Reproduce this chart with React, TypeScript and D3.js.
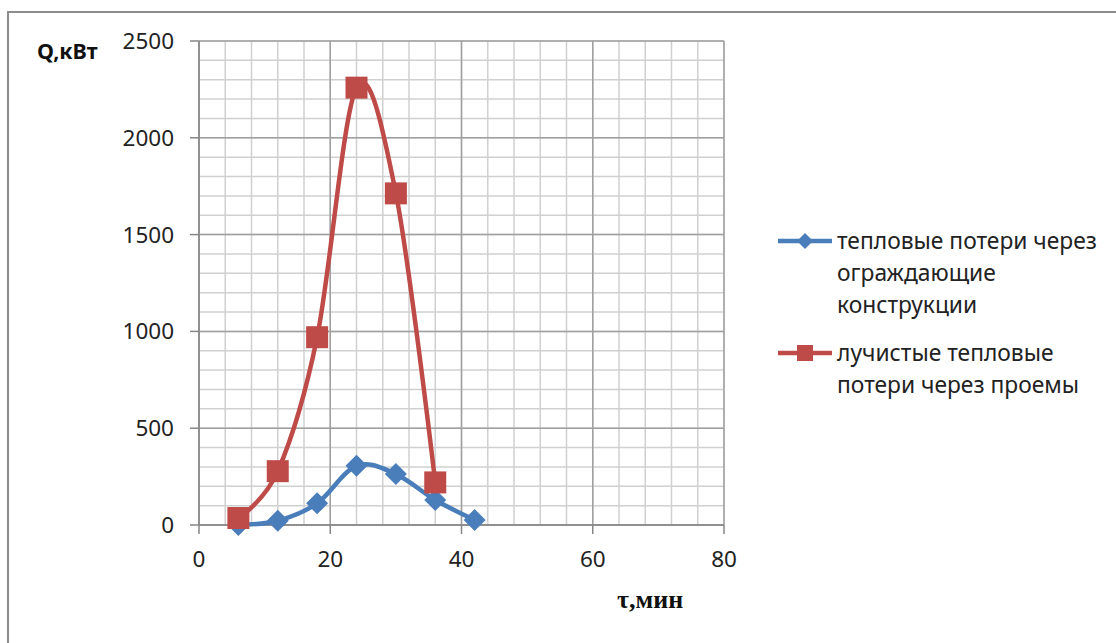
import React from "react";
import * as d3 from "d3";

const times = [6, 12, 18, 24, 30, 36, 42];
const envelopeLoss = [0, 22, 112, 306, 263, 129, 26];
const radiantTimes = [6, 12, 18, 24, 30, 36];
const radiantLoss = [36, 278, 970, 2259, 1713, 220];
const xTicks = [0, 20, 40, 60, 80];
const yTicks = [0, 500, 1000, 1500, 2000, 2500];
const seriesNames = [
  ["тепловые потери через", "ограждающие", "конструкции"],
  ["лучистые тепловые", "потери через проемы"],
];

const BLUE = "#4A7EBB";
const RED = "#BE4B48";
const FONT = "'Noto Sans', 'Open Sans', sans-serif";

export default function App() {
  const x = d3.scaleLinear().domain([0, 80]).range([199, 724]);
  const y = d3.scaleLinear().domain([0, 2500]).range([525, 41]);
  const line = d3
    .line<[number, number]>()
    .x((d) => x(d[0]))
    .y((d) => y(d[1]))
    .curve(d3.curveCatmullRom.alpha(0));

  const bluePts: [number, number][] = times.map((t, i) => [t, envelopeLoss[i]]);
  const redPts: [number, number][] = radiantTimes.map((t, i) => [t, radiantLoss[i]]);

  const minorX = d3.range(0, 81, 4);
  const minorY = d3.range(0, 2501, 100);

  const diamond = (cx: number, cy: number, r: number) =>
    `M${cx},${cy - r}L${cx + r},${cy}L${cx},${cy + r}L${cx - r},${cy}Z`;

  return (
    <svg width={1116} height={643} style={{ position: "absolute", left: 0, top: 0 }}>
      <rect x={0} y={0} width={1116} height={643} fill="#fff" />
      <rect x={8} y={12} width={1200} height={700} fill="none" stroke="#8c8c8c" strokeWidth={2} />
      {minorX.map((v) => (
        <line key={"mx" + v} x1={x(v)} x2={x(v)} y1={y(0)} y2={y(2500)} stroke="#d0d0d0" strokeWidth={1.5} />
      ))}
      {minorY.map((v) => (
        <line key={"my" + v} x1={x(0)} x2={x(80)} y1={y(v)} y2={y(v)} stroke="#d0d0d0" strokeWidth={1.5} />
      ))}
      {xTicks.map((v) => (
        <line key={"Mx" + v} x1={x(v)} x2={x(v)} y1={y(0)} y2={y(2500)} stroke="#a0a0a0" strokeWidth={1.5} />
      ))}
      {yTicks.map((v) => (
        <line key={"My" + v} x1={x(0)} x2={x(80)} y1={y(v)} y2={y(v)} stroke="#a0a0a0" strokeWidth={1.5} />
      ))}
      <line x1={x(0)} x2={x(0)} y1={y(0)} y2={y(2500)} stroke="#868686" strokeWidth={1.5} />
      <line x1={x(0)} x2={x(80)} y1={y(0)} y2={y(0)} stroke="#868686" strokeWidth={1.5} />
      {yTicks.map((v) => (
        <g key={"yt" + v}>
          <line x1={x(0) - 9} x2={x(0)} y1={y(v)} y2={y(v)} stroke="#868686" strokeWidth={1.5} />
          <text x={174} y={y(v) + 8} textAnchor="end" fontFamily={FONT} fontSize={22.5} fill="#222">
            {v}
          </text>
        </g>
      ))}
      {xTicks.map((v) => (
        <g key={"xt" + v}>
          <line x1={x(v)} x2={x(v)} y1={y(0)} y2={y(0) + 9} stroke="#868686" strokeWidth={1.5} />
          <text x={x(v)} y={567} textAnchor="middle" fontFamily={FONT} fontSize={22.5} fill="#222">
            {v}
          </text>
        </g>
      ))}
      <path d={line(bluePts) || ""} fill="none" stroke={BLUE} strokeWidth={4.5} />
      <path d={line(redPts) || ""} fill="none" stroke={RED} strokeWidth={4.5} />
      {bluePts.map((p, i) => (
        <path key={"b" + i} d={diamond(x(p[0]), y(p[1]), 11)} fill={BLUE} />
      ))}
      {redPts.map((p, i) => (
        <rect key={"r" + i} x={x(p[0]) - 11} y={y(p[1]) - 11} width={22} height={22} fill={RED} />
      ))}
      <text x={37} y={59} fontFamily={FONT} fontWeight="bold" fontSize={21.5} fill="#111">
        Q,кВт
      </text>
      <text x={617} y={608} fontFamily="'Liberation Serif', serif" fontWeight="bold" fontSize={26} fill="#111">
        τ,мин
      </text>
      <line x1={778} x2={832} y1={241} y2={241} stroke={BLUE} strokeWidth={4.5} />
      <path d={diamond(805, 241, 8)} fill={BLUE} />
      {seriesNames[0].map((s, i) => (
        <text key={"l0" + i} x={837} y={249 + i * 32} fontFamily={FONT} fontSize={22.8} fill="#222">
          {s}
        </text>
      ))}
      <line x1={778} x2={832} y1={353} y2={353} stroke={RED} strokeWidth={4.5} />
      <rect x={805 - 8} y={353 - 8} width={16} height={16} fill={RED} />
      {seriesNames[1].map((s, i) => (
        <text key={"l1" + i} x={837} y={361 + i * 32} fontFamily={FONT} fontSize={22.8} fill="#222">
          {s}
        </text>
      ))}
    </svg>
  );
}
